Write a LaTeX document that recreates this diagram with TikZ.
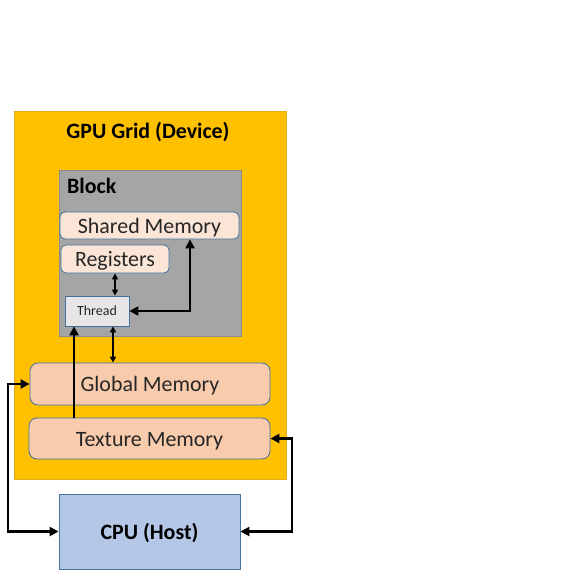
\documentclass[tikz,border=0pt]{standalone}
\usepackage{fontspec}
\setmainfont{Carlito}
\usetikzlibrary{arrows.meta}
\definecolor{gpuc}{HTML}{FFC000}
\definecolor{gpub}{HTML}{E3AC1A}
\definecolor{blockc}{HTML}{A5A5A5}
\definecolor{blockb}{HTML}{8C8C8C}
\definecolor{lightc}{HTML}{FBE5D6}
\definecolor{memc}{HTML}{F8CBAD}
\definecolor{threadc}{HTML}{E7E6E6}
\definecolor{cpuc}{HTML}{B4C7E7}
\definecolor{edgeb}{HTML}{41719C}
\definecolor{textc}{HTML}{262626}
\begin{document}
\begin{tikzpicture}[x=1bp,y=-1bp,
  box/.style={rectangle, inner sep=0pt, line width=0.8bp},
  gpubox/.style={box, fill=gpuc, draw=gpub},
  blockbox/.style={box, fill=blockc, draw=blockb},
  smallmem/.style={box, fill=lightc, draw=edgeb, rounded corners=5bp, text=textc, font=\fontsize{22}{26}\selectfont, text height=19bp, text depth=4bp},
  bigmem/.style={box, fill=memc, draw=edgeb, rounded corners=8bp, text=textc, font=\fontsize{22}{26}\selectfont, text height=19.5bp, text depth=4bp},
  threadbox/.style={box, fill=threadc, draw=edgeb, text=textc, font=\fontsize{14}{16}\selectfont},
  cpubox/.style={box, fill=cpuc, draw=edgeb, font=\bfseries\fontsize{22}{26}\selectfont, text height=20bp, text depth=4bp},
  title/.style={inner sep=0pt, font=\bfseries\fontsize{22}{26}\selectfont},
  thinarrow/.style={line width=1.6bp, {Triangle[length=6bp,width=6bp]}-{Triangle[length=6bp,width=6bp]}},
  thickarrow/.style={line width=2.8bp, {Triangle[length=9bp,width=9bp]}-{Triangle[length=9bp,width=9bp]}},
  thickone/.style={line width=2.8bp, -{Triangle[length=9bp,width=9bp]}}
]
\useasboundingbox (0,0) rectangle (576,576);
\node[gpubox, minimum width=272bp, minimum height=368bp] (gpu) at (150,295) {};
\node[title] (gputitle) at (148,132) {GPU Grid (Device)};
\node[blockbox, minimum width=182bp, minimum height=166bp] (block) at (150,253) {};
\node[title, anchor=west] (blocktitle) at (67,186) {Block};
\node[smallmem, minimum width=179bp, minimum height=27bp] (shared) at (149.5,225.5) {Shared Memory};
\node[smallmem, minimum width=108bp, minimum height=28bp] (reg) at (115,259) {Registers};
\node[threadbox, minimum width=64bp, minimum height=30bp] (thread) at (97,311) {Thread};
\node[bigmem, minimum width=240bp, minimum height=42bp] (global) at (150,384) {Global Memory};
\node[bigmem, minimum width=241bp, minimum height=41bp] (texture) at (149.5,438.5) {Texture Memory};
\node[cpubox, minimum width=181bp, minimum height=75bp] (cpu) at (149.5,531.5) {CPU (Host)};
\coordinate (cx1) at (113,0);
\coordinate (cx2) at (190,0);
\coordinate (cx3) at (74,0);
\coordinate (cl) at (8,0);
\coordinate (cr) at (292,0);
\draw[thinarrow] (reg.south) -- (reg.south |- thread.north);
\draw[thinarrow] (thread.south -| cx1) -- (global.north -| cx1);
\draw[thickarrow] (shared.south -| cx2) -- (thread.east -| cx2) -- (thread.east);
\draw[thickone] (texture.north -| cx3) -- (thread.south -| cx3);
\draw[thickarrow] (cpu.west) -- (cpu.west -| cl) -- (global.west -| cl) -- (global.west);
\draw[thickarrow] (cpu.east) -- (cpu.east -| cr) -- (texture.east -| cr) -- (texture.east);
\end{tikzpicture}
\end{document}
